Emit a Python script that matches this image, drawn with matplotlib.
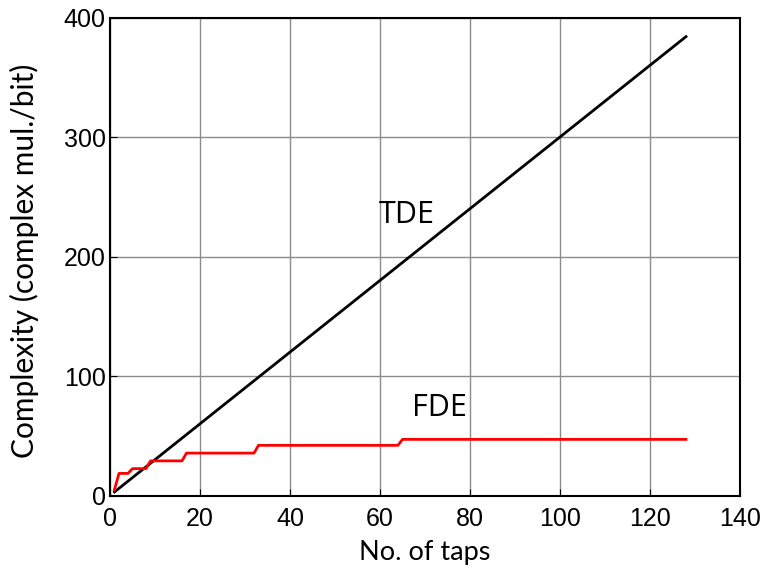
import numpy as np
import matplotlib.pyplot as plt

# number of equalizer taps
taps = np.arange(1, 129)

# time-domain equalizer: complex multiplications per bit grow linearly with taps
tde_per_tap = 3
tde = tde_per_tap * taps

# frequency-domain equalizer: stepwise with FFT block size (powers of two)
fde_breaks = [1, 4, 8, 16, 32, 64, 128]
fde_levels = [5, 18.5, 22.5, 29, 35.5, 42, 47]

def fde_cost(n):
    # first block whose upper edge covers n
    for edge, val in zip(fde_breaks, fde_levels):
        if n <= edge:
            return val
    return fde_levels[-1]

fde = np.array([fde_cost(n) for n in taps])

xticks = [0, 20, 40, 60, 80, 100, 120, 140]
yticks = [0, 100, 200, 300, 400]

fig = plt.figure(figsize=(7.67, 5.72), dpi=100)
ax = fig.add_axes([0.1434, 0.1337, 0.8214, 0.8357])

ax.plot(taps, tde, color='black', lw=2)
ax.plot(taps, fde, color='red', lw=2)

ax.set_xlim(0, 140)
ax.set_ylim(0, 400)
ax.set_xticks(xticks)
ax.set_yticks(yticks)
ax.grid(True, color='#8c8c8c', lw=1)
ax.tick_params(direction='in', length=5, labelsize=18)
ax.tick_params(axis='x', pad=8)
ax.tick_params(axis='y', pad=3)
for lab in ax.get_xticklabels() + ax.get_yticklabels():
    lab.set_family('Liberation Sans')
for sp in ax.spines.values():
    sp.set_linewidth(1.5)

ax.set_xlabel('No. of taps', family='Lato', fontsize=19.5, labelpad=7)
ax.set_ylabel('Complexity (complex mul./bit)', family='Lato', fontsize=21.5)
ax.yaxis.set_label_coords(-0.112, 0.49)

ax.text(65.9, 235, 'TDE', family='Open Sans', fontsize=22,
        ha='center', va='center')
ax.text(73.1, 73, 'FDE', family='Open Sans', fontsize=22,
        ha='center', va='center')

fig.savefig('out.png', dpi=100)
